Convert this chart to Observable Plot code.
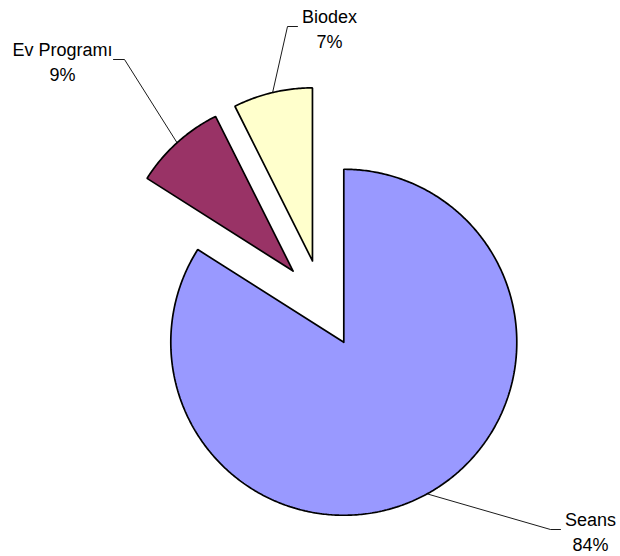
<!DOCTYPE html>
<html>
<head>
<meta charset="utf-8">
<script src="https://cdn.jsdelivr.net/npm/d3@7"></script>
<script src="https://cdn.jsdelivr.net/npm/@observablehq/plot@0.6"></script>
<style>
  html, body { margin: 0; padding: 0; background: #ffffff; }
  #chart svg { display: block; }
</style>
</head>
<body>
<div id="chart"></div>
<script>
// ---- data ----
const categories = ["Seans", "Ev Programı", "Biodex"];
const values = [84, 8.6, 7.4];
const colors = ["#9999FF", "#993366", "#FFFFCC"];

// ---- layout ----
const W = 620, H = 556;
const center = [322.1, 303.2];
const radius = 173;
const explode = 44;
// label anchor (text top) and leader elbow per category
const labelAt = [[590, 507], [62, 37], [329, 4]];
const elbows = [[[550, 529], [560, 529]], [[124, 59], [113, 59]], [[287, 26], [297, 26]]];

const total = d3.sum(values);
const arcs = d3.pie().sort(null).startAngle(0).endAngle(2 * Math.PI)(values);

const pt = (c, r, a) => [c[0] + r * Math.sin(a), c[1] - r * Math.cos(a)];

const slices = arcs.map((a, i) => {
  const mid = (a.startAngle + a.endAngle) / 2;
  const c = pt(center, explode, mid);
  const pts = [c];
  const n = Math.max(8, Math.ceil((a.endAngle - a.startAngle) / 0.01));
  for (let k = 0; k <= n; k++) {
    pts.push(pt(c, radius, a.startAngle + (a.endAngle - a.startAngle) * k / n));
  }
  pts.push(c);
  return {name: categories[i], color: colors[i], pts, mid, c};
});

const leaders = slices.map((s, i) => [pt(s.c, radius, s.mid), ...elbows[i]]);

const labels = categories.map((name, i) => ({
  x: labelAt[i][0], y: labelAt[i][1],
  text: name + "\n" + Math.round(values[i] / total * 100) + "%"
}));

const marks = [];
slices.forEach(s => {
  marks.push(Plot.line(s.pts, {
    x: d => d[0], y: d => d[1],
    fill: s.color, stroke: "#000", strokeWidth: 1.7, strokeLinejoin: "miter", curve: "linear"
  }));
});
leaders.forEach(l => {
  marks.push(Plot.line(l, {x: d => d[0], y: d => d[1], stroke: "#000", strokeWidth: 0.9}));
});
marks.push(Plot.text(labels, {
  x: "x", y: "y", text: "text",
  textAnchor: "middle", lineAnchor: "top", lineHeight: 1.42,
  fontSize: 18, fontFamily: "Liberation Sans, Arial, sans-serif", fill: "#000"
}));

const chart = Plot.plot({
  width: W, height: H, margin: 0,
  x: {domain: [0, W], range: [0, W], axis: null},
  y: {domain: [0, H], range: [0, H], axis: null},
  style: {background: "#ffffff", overflow: "visible"},
  marks
});
document.getElementById("chart").appendChild(chart);
</script>
</body>
</html>
